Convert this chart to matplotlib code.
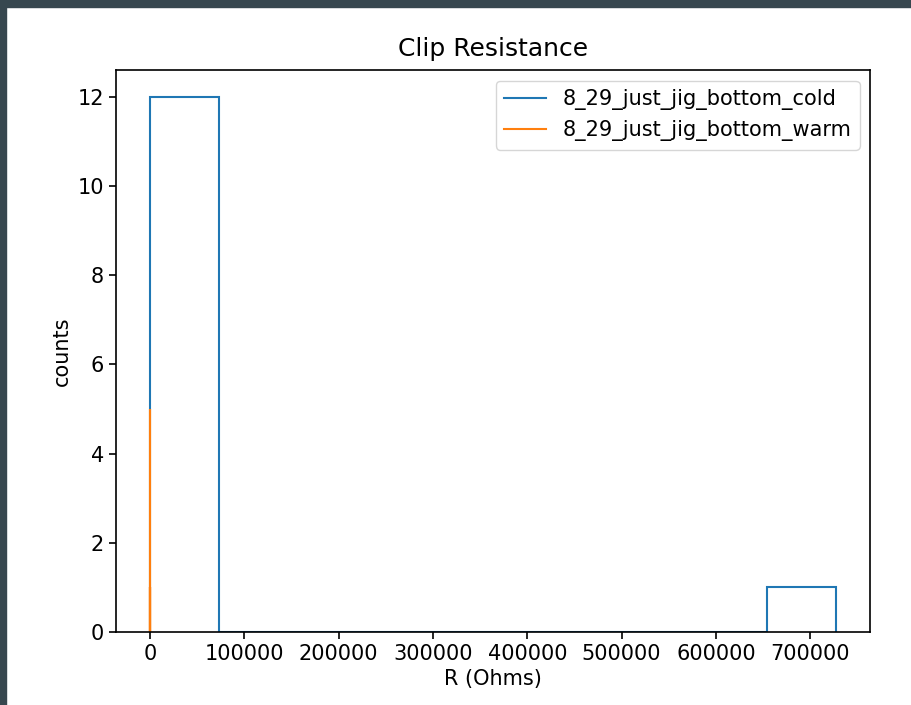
import numpy as np
import matplotlib.pyplot as plt
from matplotlib.lines import Line2D
from matplotlib.patches import Rectangle

# resistance readings (Ohms), estimated from the histogram
cold_label = "8_29_just_jig_bottom_cold"
warm_label = "8_29_just_jig_bottom_warm"
cold_r = [2.1, 2.3, 2.4, 2.6, 2.8, 3.0, 3.1, 3.3, 3.5, 3.9, 4.4, 5.2, 727000.0]
warm_r = [2.00, 2.01, 2.02, 2.03, 2.04, 2.30, 2.35, 2.90, 3.60, 3.90]

S = 1.5
plt.rcParams['font.size'] = 10 * S

fig = plt.figure(figsize=(9.11, 7.05), dpi=100)
ax = fig.add_axes([0.127, 0.1035, 0.828, 0.797])

ax.hist(cold_r, bins=10, histtype='step', color='C0', linewidth=1.5)
ax.hist(warm_r, bins=10, histtype='step', color='C1', linewidth=1.5)

ax.set_title("Clip Resistance", fontsize=12 * S, pad=10)
ax.set_xlabel("R (Ohms)")
ax.set_ylabel("counts")
handles = [Line2D([], [], color='C0', linewidth=1.5),
           Line2D([], [], color='C1', linewidth=1.5)]
ax.legend(handles, [cold_label, warm_label], loc='upper right')
for sp in ax.spines.values():
    sp.set_linewidth(1.2)
ax.tick_params(width=1.2, length=5)

# dark notebook frame along top and left edges
fig.patches.append(Rectangle((0, 0.99), 1, 0.01, transform=fig.transFigure,
                             color='#37474f', zorder=10))
fig.patches.append(Rectangle((0, 0), 0.0066, 1, transform=fig.transFigure,
                             color='#37474f', zorder=10))

fig.savefig("out.png", dpi=100)
